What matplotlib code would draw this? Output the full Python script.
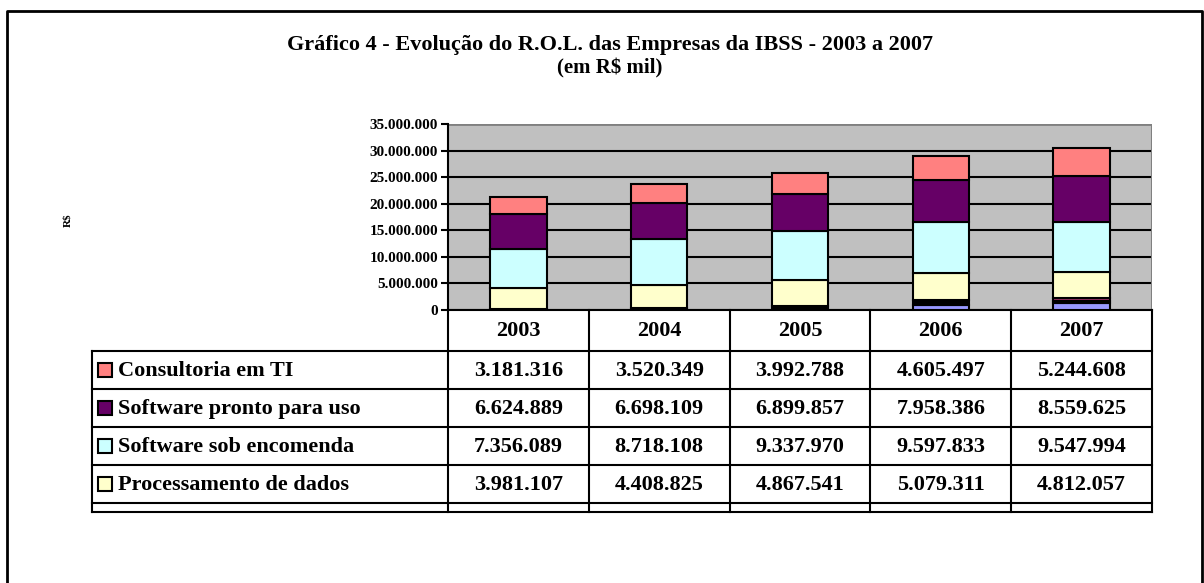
import matplotlib
matplotlib.use("Agg")
import matplotlib.pyplot as plt
import numpy as np

anos = ["2003", "2004", "2005", "2006", "2007"]
consultoria = [3181316, 3520349, 3992788, 4605497, 5244608]
software_pronto = [6624889, 6698109, 6899857, 7958386, 8559625]
software_encomenda = [7356089, 8718108, 9337970, 9597833, 9547994]
processamento = [3981107, 4408825, 4867541, 5079311, 4812057]
# small series stacked at the bottom that have no row in the table
outros_azul = [0, 0, 50000, 1000000, 1250000]
outros_preto = [150000, 300000, 700000, 800000, 400000]
outros_vinho = [0, 0, 0, 0, 600000]

y_ticks = [0, 5000000, 10000000, 15000000, 20000000, 25000000, 30000000, 35000000]

linhas = ["Consultoria em TI", "Software pronto para uso",
          "Software sob encomenda", "Processamento de dados"]
valores = [consultoria, software_pronto, software_encomenda, processamento]
cores = ["#FF8080", "#660066", "#CCFFFF", "#FFFFCC"]

W, H = 1204, 583
plt.rcParams['font.family'] = ['Liberation Serif', 'DejaVu Serif']
plt.rcParams['font.weight'] = 'bold'
fig = plt.figure(figsize=(W / 100, H / 100), dpi=100)


def fmt(v):
    return f"{v:,.0f}".replace(",", ".")


# ---- bar axes ----
x0, x1, ytop, ybot = 448, 1152, 124, 310
ax = fig.add_axes([x0 / W, 1 - ybot / H, (x1 - x0) / W, (ybot - ytop) / H])
ax.set_facecolor("#C0C0C0")
x = np.arange(len(anos))
bottom = np.zeros(len(anos))
stack = [(outros_azul, "#9999FF"), (outros_preto, "#000000"), (outros_vinho, "#993366"),
         (processamento, "#FFFFCC"), (software_encomenda, "#CCFFFF"),
         (software_pronto, "#660066"), (consultoria, "#FF8080")]
for serie, cor in stack:
    ax.bar(x, serie, 0.4, bottom=bottom, color=cor, edgecolor="black", linewidth=1.5, zorder=3)
    bottom += np.array(serie)
ax.set_xlim(-0.5, len(anos) - 0.5)
ax.set_ylim(0, 35000000)
ax.set_yticks(y_ticks)
ax.set_yticklabels([fmt(v) for v in y_ticks], fontsize=11, fontweight='bold')
ax.tick_params(axis='y', length=5, width=1.5, pad=2)
ax.set_xticks([])
ax.grid(axis='y', color="black", linewidth=1.5, zorder=1)
for s in ["right", "top"]:
    ax.spines[s].set_visible(False)
ax.spines["left"].set_linewidth(1.5)
ax.spines["bottom"].set_linewidth(1.5)
ax.axhline(35000000, color="#808080", linewidth=2, zorder=2)
ax.axvline(len(anos) - 0.5, color="#808080", linewidth=1.5, zorder=2)

# ---- overlay for frame, titles and table ----
ov = fig.add_axes([0, 0, 1, 1])
ov.set_xlim(0, W)
ov.set_ylim(H, 0)
ov.axis("off")
ov.patch.set_alpha(0)

# outer frame
ov.plot([7, 7, 1202, 1202], [H, 11, 11, H], color="black", linewidth=2)

ov.text(610, 45, "Gráfico 4 - Evolução do R.O.L. das Empresas da IBSS - 2003 a 2007",
        ha="center", va="center", fontsize=16, fontweight="bold")
ov.text(610, 68, "(em R$ mil)", ha="center", va="center", fontsize=15, fontweight="bold")
ov.text(68, 220, "R$", ha="center", va="center", rotation=90, fontsize=8, fontweight="bold")

# table
col_x = np.linspace(x0, x1, len(anos) + 1)
row_y = [351, 389, 427, 465, 503, 512]
tx0 = 92
for cx in col_x:
    ov.plot([cx, cx], [ybot, row_y[-1]], color="black", linewidth=1.5)
for ry in row_y:
    ov.plot([tx0, x1], [ry, ry], color="black", linewidth=1.5)
ov.plot([tx0, tx0], [row_y[0], row_y[-1]], color="black", linewidth=1.5)

for i, ano in enumerate(anos):
    cx = (col_x[i] + col_x[i + 1]) / 2
    ov.text(cx, (ybot + row_y[0]) / 2 + 1, ano, ha="center", va="center",
            fontsize=16, fontweight="bold")

for r, (nome, serie, cor) in enumerate(zip(linhas, valores, cores)):
    cy = (row_y[r] + row_y[r + 1]) / 2
    ov.add_patch(plt.Rectangle((98, cy - 7), 14, 14, facecolor=cor,
                               edgecolor="black", linewidth=1.5))
    ov.text(118, cy + 1, nome, ha="left", va="center", fontsize=16, fontweight="bold")
    for i, v in enumerate(serie):
        cx = (col_x[i] + col_x[i + 1]) / 2
        ov.text(cx, cy + 1, fmt(v), ha="center", va="center", fontsize=16, fontweight="bold")

fig.savefig("out.png", dpi=100)
